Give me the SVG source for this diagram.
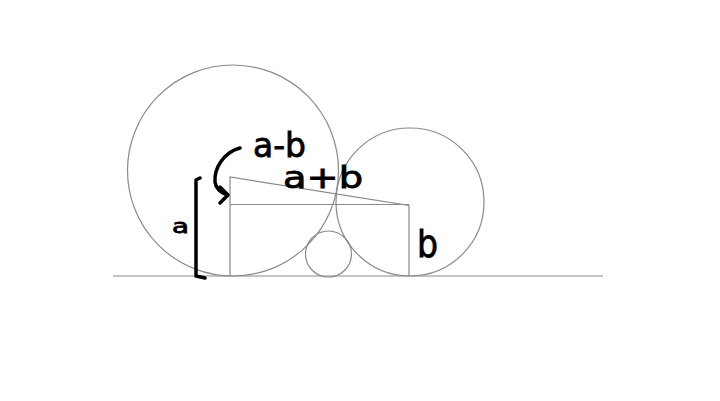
<svg xmlns="http://www.w3.org/2000/svg" width="720" height="401" viewBox="0 0 720 401">
<style>
.g{fill:none;stroke:#8a8a8a;stroke-width:1.2}
.h{fill:none;stroke:#000;stroke-width:3.5;stroke-linecap:round;stroke-linejoin:round}
.t{font-family:"DejaVu Sans","Liberation Sans",sans-serif;fill:#000;stroke:#000;stroke-width:0.8}
</style>
<rect width="720" height="401" fill="#fff"/>
<g id="ground"><line class="g" x1="113" y1="276" x2="603" y2="276"/></g>
<g id="circle-a"><circle class="g" cx="233" cy="170.5" r="105.5"/></g>
<g id="circle-b"><circle class="g" cx="410" cy="202" r="74"/></g>
<g id="circle-c"><circle class="g" cx="328.5" cy="254" r="23"/></g>
<g id="connectors">
<polyline class="g" points="230,276 230,177 409,205.5 409,276"/>
<polyline class="g" points="230,204.5 409,204.5"/>
<path class="h" d="M200,178 L196,180 L196,276 L205,278"/>
<path class="h" d="M240,148 C224,152 214,168 215,182 C216,190 222,193 227,195"/>
<path class="h" d="M220,187 L228,195 L220,203"/>
</g>
<g id="labels">
<text class="t" x="253" y="157" font-size="33" textLength="53" lengthAdjust="spacingAndGlyphs">a-b</text>
<text class="t" x="283" y="188" font-size="30" textLength="80" lengthAdjust="spacingAndGlyphs">a+b</text>
<text class="t" x="417" y="257" font-size="38" textLength="21" lengthAdjust="spacingAndGlyphs">b</text>
<text class="t" x="172" y="233" font-size="20" textLength="17" lengthAdjust="spacingAndGlyphs">a</text>
</g>
</svg>
